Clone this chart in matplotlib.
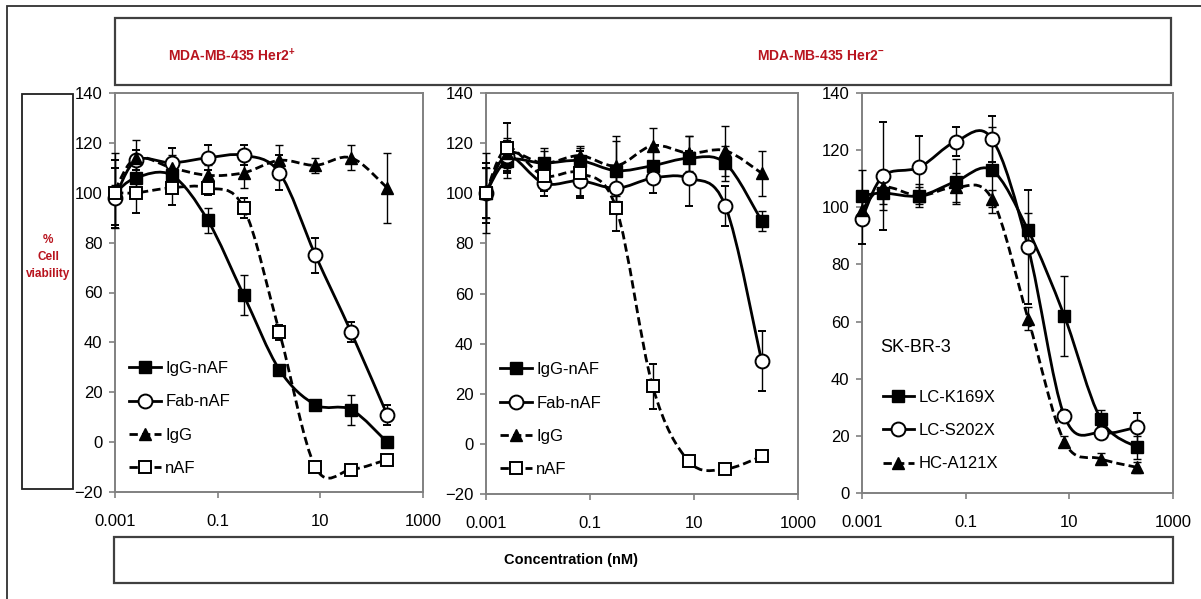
# %%
# libraries
import numpy as np
import matplotlib
matplotlib.use('Agg')
import matplotlib.pyplot as plt
from matplotlib.path import Path
from matplotlib.patches import PathPatch, Rectangle
from matplotlib.lines import Line2D
from matplotlib.ticker import FixedLocator, NullLocator

plt.rcParams['font.family'] = ['Liberation Sans', 'DejaVu Sans']
plt.rcParams['mathtext.default'] = 'regular'

# %%
# data (concentration in nM, % cell viability)
conc = [0.001, 0.00256, 0.0128, 0.064, 0.32, 1.6, 8, 40, 200]
x_ticks = [0.001, 0.1, 10, 1000]
x_tick_labels = ['0.001', '0.1', '10', '1000']

# panel 1: MDA-MB-435 Her2+
p1_igg_naf = [100, 106, 107, 89, 59, 29, 15, 13, 0]
p1_igg_naf_err = [3, 5, 3, 5, 8, 2, 2, 6, 2]
p1_fab_naf = [98, 113, 112, 114, 115, 108, 75, 44, 11]
p1_fab_naf_err = [12, 4, 6, 5, 4, 7, 7, 4, 4]
p1_igg = [101, 114, 110, 107, 108, 113, 111, 114, 102]
p1_igg_err = [15, 7, 5, 4, 6, 6, 3, 5, 14]
p1_naf = [100, 100, 102, 102, 94, 44, -10, -11, -7]
p1_naf_err = [13, 8, 7, 3, 4, 3, 2, 2, 2]

# panel 2: MDA-MB-435 Her2-
p2_igg_naf = [100, 113, 112, 113, 109, 111, 114, 112, 89]
p2_igg_naf_err = [10, 7, 6, 5, 12, 6, 9, 7, 4]
p2_fab_naf = [100, 115, 104, 105, 102, 106, 106, 95, 33]
p2_fab_naf_err = [12, 6, 5, 7, 6, 6, 11, 8, 12]
p2_igg = [100, 116, 112, 115, 111, 119, 116, 117, 108]
p2_igg_err = [16, 6, 5, 4, 12, 7, 7, 10, 9]
p2_naf = [100, 118, 107, 108, 94, 23, -7, -10, -5]
p2_naf_err = [10, 10, 6, 9, 9, 9, 2, 2, 2]

# panel 3: SK-BR-3
p3_k169x = [104, 105, 104, 109, 113, 92, 62, 26, 16]
p3_k169x_err = [9, 6, 4, 8, 15, 6, 14, 3, 4]
p3_s202x = [96, 111, 114, 123, 124, 86, 27, 21, 23]
p3_s202x_err = [9, 19, 11, 5, 8, 20, 2, 2, 5]
p3_a121x = [99, 107, 104, 107, 103, 61, 18, 12, 9]
p3_a121x_err = [5, 6, 3, 5, 3, 4, 2, 2, 2]

# %%
# styles
RED = '#b8141e'
SPINE = '#808080'
DASH = (0, (3, 1.5))
sq_f = dict(marker='s', ms=9, mfc='black', mec='black')
ci_o = dict(marker='o', ms=10, mfc='white', mec='black', mew=1.4)
tr_f = dict(marker='^', ms=8, mfc='black', mec='black')
sq_o = dict(marker='s', ms=9, mfc='white', mec='black', mew=1.4)

W, H = 1201, 599


def rect(x0, y0, x1, y1):
    # pixel box (top-left origin) -> figure fraction
    return [x0 / W, 1 - y1 / H, (x1 - x0) / W, (y1 - y0) / H]


def box(x0, y0, x1, y1, ec, lw):
    r = rect(x0, y0, x1, y1)
    fig.add_artist(Rectangle(r[:2], r[2], r[3], transform=fig.transFigure,
                             fill=False, ec=ec, lw=lw))


def smooth_path(xs, ys):
    # Excel-like smoothed line: Catmull-Rom as cubic Bezier in log-x space
    pts = np.column_stack([np.log10(xs), np.asarray(ys, float)])
    P = np.vstack([pts[0], pts, pts[-1]])
    verts = [pts[0]]
    codes = [Path.MOVETO]
    for i in range(1, len(P) - 2):
        c1 = P[i] + (P[i + 1] - P[i - 1]) / 6
        c2 = P[i + 1] - (P[i + 2] - P[i]) / 6
        verts += [c1, c2, P[i + 1]]
        codes += [Path.CURVE4] * 3
    verts = np.array(verts)
    verts[:, 0] = 10 ** verts[:, 0]
    return Path(verts, codes)


def series(ax, y, err, ls, mk):
    ax.add_patch(PathPatch(smooth_path(conc, y), fill=False, ec='black',
                           lw=2, ls=ls, zorder=2))
    ax.errorbar(conc, y, yerr=err, ls='none', ecolor='black', elinewidth=1,
                capsize=3, capthick=1, zorder=3, clip_on=False, **mk)
    return Line2D([], [], color='black', lw=2, ls=ls, **mk)


def style(ax, ymin):
    ax.set_xscale('log')
    ax.set_xlim(0.001, 1000)
    ax.set_ylim(ymin, 140)
    ax.xaxis.set_major_locator(FixedLocator(x_ticks))
    ax.xaxis.set_minor_locator(NullLocator())
    ax.set_xticklabels(x_tick_labels)
    ax.set_yticks(np.arange(ymin, 141, 20))
    for s in ax.spines.values():
        s.set_color(SPINE)
        s.set_linewidth(1.4)
    ax.tick_params(axis='both', direction='out', color=SPINE, width=1.2,
                   length=4, labelsize=12)
    ax.tick_params(axis='x', pad=12)
    ax.tick_params(axis='y', pad=5)


# %%
# figure
fig = plt.figure(figsize=(W / 100, H / 100), dpi=100)

# frames
fig.add_artist(Rectangle((7 / W, -0.1), 1.2, 1 - 6 / H + 0.1, transform=fig.transFigure,
                         fill=False, ec='#303030', lw=1.3))
box(115, 18, 1171, 85, '#404040', 1.6)
box(22, 94, 73, 489, '#202020', 1.3)
box(114, 537, 1173, 583, '#404040', 1.6)

fig.text(168 / W, 1 - 56 / H, r'MDA-MB-435 Her2$^{+}$', color=RED, fontsize=10,
         fontweight='bold', ha='left', va='center')
fig.text(757 / W, 1 - 56 / H, r'MDA-MB-435 Her2$^{-}$', color=RED, fontsize=10,
         fontweight='bold', ha='left', va='center')
fig.text(48 / W, 1 - 257 / H, '%\nCell\nviability', color=RED, fontsize=8.5,
         fontweight='bold', ha='center', va='center', linespacing=1.6)
fig.text(571 / W, 1 - 560 / H, 'Concentration (nM)', fontsize=10.5,
         fontweight='bold', ha='center', va='center')

leg_kw = dict(frameon=False, fontsize=12, handlelength=1.9, handletextpad=0.25,
              labelspacing=1.1, borderaxespad=0, loc='upper left')

# panel 1
ax1 = fig.add_axes(rect(115, 93, 423, 492))
h = [series(ax1, p1_igg_naf, p1_igg_naf_err, '-', sq_f),
     series(ax1, p1_fab_naf, p1_fab_naf_err, '-', ci_o),
     series(ax1, p1_igg, p1_igg_err, DASH, tr_f),
     series(ax1, p1_naf, p1_naf_err, DASH, sq_o)]
style(ax1, -20)
ax1.legend(h, ['IgG-nAF', 'Fab-nAF', 'IgG', 'nAF'], bbox_to_anchor=(0.025, 0.345), **leg_kw)

# panel 2
ax2 = fig.add_axes(rect(486, 93, 798, 494))
h = [series(ax2, p2_igg_naf, p2_igg_naf_err, '-', sq_f),
     series(ax2, p2_fab_naf, p2_fab_naf_err, '-', ci_o),
     series(ax2, p2_igg, p2_igg_err, DASH, tr_f),
     series(ax2, p2_naf, p2_naf_err, DASH, sq_o)]
style(ax2, -20)
ax2.legend(h, ['IgG-nAF', 'Fab-nAF', 'IgG', 'nAF'], bbox_to_anchor=(0.025, 0.345), **leg_kw)

# panel 3
ax3 = fig.add_axes(rect(862, 93, 1173, 493))
h = [series(ax3, p3_k169x, p3_k169x_err, '-', sq_f),
     series(ax3, p3_s202x, p3_s202x_err, '-', ci_o),
     series(ax3, p3_a121x, p3_a121x_err, DASH, tr_f)]
style(ax3, 0)
ax3.text(0.058, 0.365, 'SK-BR-3', transform=ax3.transAxes, fontsize=13,
         ha='left', va='center')
ax3.legend(h, ['LC-K169X', 'LC-S202X', 'HC-A121X'], bbox_to_anchor=(0.045, 0.275), **leg_kw)

fig.savefig('out.png', dpi=100)
